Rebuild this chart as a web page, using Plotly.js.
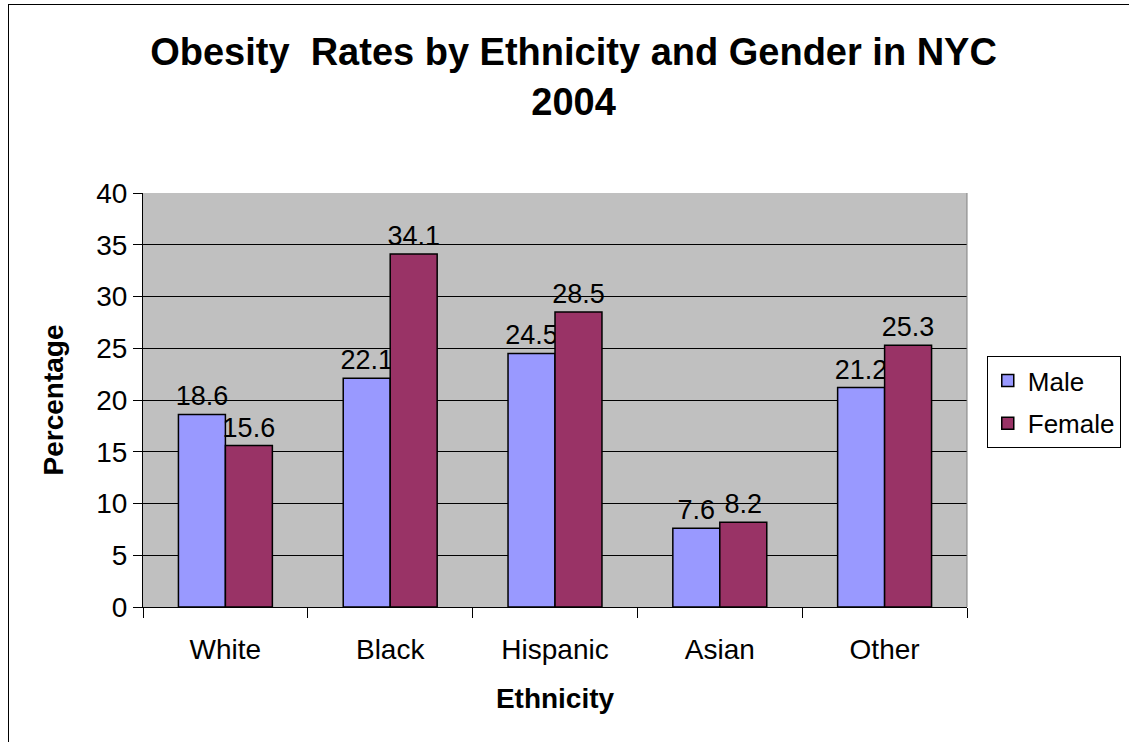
<!DOCTYPE html>
<html><head><meta charset="utf-8">
<script src="https://cdn.plot.ly/plotly-3.0.1.min.js"></script>
<style>
html,body{margin:0;padding:0;overflow:hidden;background:#fff;}
#frame{position:absolute;left:8px;top:4px;width:1300px;height:900px;border:1.5px solid #000;box-sizing:border-box;}
#chart{position:absolute;left:0;top:0;width:1129px;height:742px;}
</style></head>
<body>
<div id="frame"></div>
<div id="chart"></div>
<script>
const categories = ["White", "Black", "Hispanic", "Asian", "Other"];
const maleValues = [18.6, 22.1, 24.5, 7.6, 21.2];
const femaleValues = [15.6, 34.1, 28.5, 8.2, 25.3];
const seriesNames = ["Male", "Female"];
const yTicks = [0, 5, 10, 15, 20, 25, 30, 35, 40];

const font = "Liberation Sans, Arial, sans-serif";
function barTrace(name, vals, color, group) {
  return {
    type: "bar", name: name, x: categories, y: vals, legendgroup: group,
    marker: {color: color, line: {color: "#000", width: 1.5}},
    text: vals.map(v => v.toFixed(1)), textposition: "outside",
    textfont: {family: font, size: 27, color: "#000"},
    constraintext: "none",
    cliponaxis: false
  };
}
const data = [
  barTrace(seriesNames[0], maleValues, "#9999FF", "g1"),
  barTrace(seriesNames[1], femaleValues, "#993366", "g2")
];
const layout = {
  width: 1129, height: 742,
  margin: {l: 143, r: 162, t: 193, b: 135, autoexpand: false},
  paper_bgcolor: "rgba(0,0,0,0)", plot_bgcolor: "#C0C0C0",
  font: {family: font, size: 26, color: "#000"},
  title: {text: "Obesity  Rates by Ethnicity and Gender in NYC<br>2004",
    font: {family: font, size: 38, color: "#000", weight: "bold"},
    x: 0.508, xref: "container", xanchor: "center", y: 0.912, yref: "container", yanchor: "top"},
  barmode: "group", bargap: 0.43, bargroupgap: 0,
  xaxis: {
    type: "category", showline: true, linecolor: "#000", linewidth: 1,
    ticks: "outside", tickson: "boundaries", ticklen: 10, tickcolor: "#000", tickwidth: 1,
    showgrid: false, tickfont: {family: font, size: 28}, ticklabelstandoff: 17,
    title: {text: "Ethnicity", font: {family: font, size: 28, weight: "bold"}, standoff: 24}
  },
  yaxis: {
    range: [0, 40], tickvals: yTicks, ticktext: yTicks.map(String),
    showline: true, linecolor: "#000", linewidth: 1,
    ticks: "outside", ticklen: 9, tickcolor: "#000", tickwidth: 1,
    showgrid: true, gridcolor: "#000", gridwidth: 1, zeroline: false,
    tickfont: {family: font, size: 28},
    title: {text: "Percentage", font: {family: font, size: 28, weight: "bold"}, standoff: 24}
  },
  showlegend: true,
  legend: {x: 1.024, xanchor: "left", y: 0.606, yanchor: "top",
    bgcolor: "#fff", bordercolor: "#000", borderwidth: 1,
    font: {family: font, size: 26}, traceorder: "grouped", tracegroupgap: 6,
    itemwidth: 30, entrywidth: 150},
  shapes: [{type: "line", xref: "paper", yref: "paper", x0: 1, x1: 1, y0: 0, y1: 1,
    line: {color: "#808080", width: 1}}]
};
Plotly.newPlot("chart", data, layout, {displayModeBar: false, staticPlot: true});
</script>
</body></html>
